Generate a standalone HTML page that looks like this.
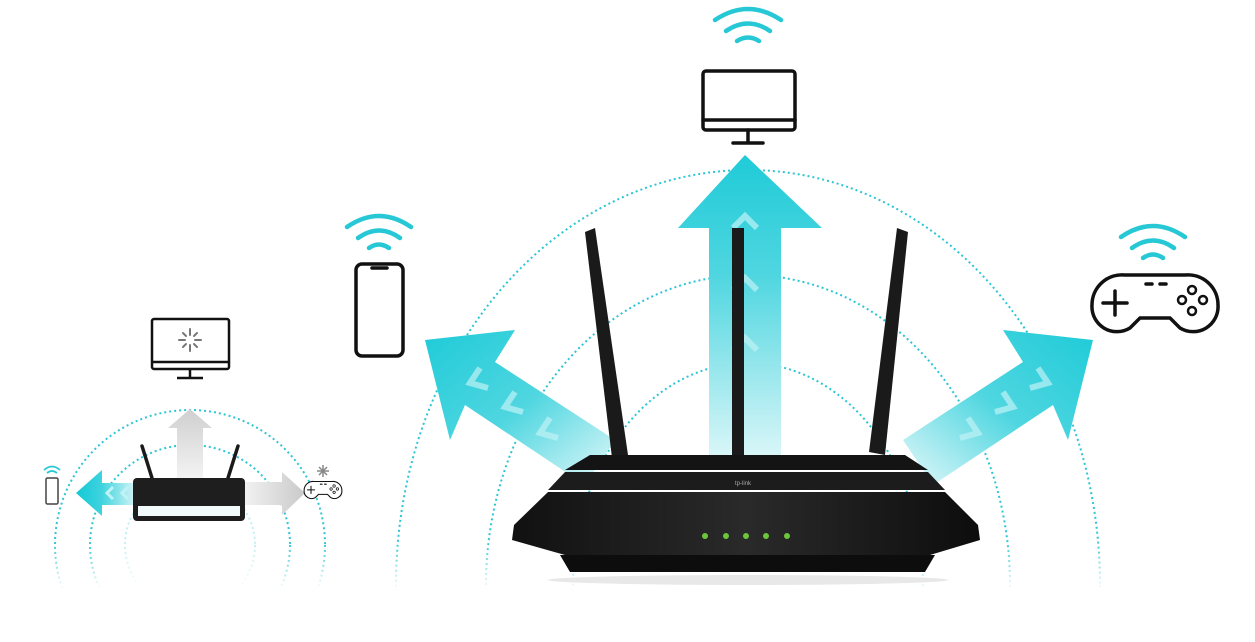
<!DOCTYPE html>
<html><head><meta charset="utf-8"><style>html,body{margin:0;padding:0;background:#fff;width:1255px;height:642px;overflow:hidden}svg{display:block}</style></head>
<body>
<svg width="1255" height="642" viewBox="0 0 1255 642" xmlns="http://www.w3.org/2000/svg">
<defs>
<linearGradient id="gu" x1="0" y1="1" x2="0" y2="0"><stop offset="0" stop-color="#d8f6f8"/><stop offset="0.6" stop-color="#4fd6e0"/><stop offset="1" stop-color="#1fcbd8"/></linearGradient>
<linearGradient id="gl" x1="1" y1="1" x2="0" y2="0"><stop offset="0" stop-color="#e6f9fa"/><stop offset="0.5" stop-color="#4fd6e0"/><stop offset="1" stop-color="#1fcbd8"/></linearGradient>
<linearGradient id="gr" x1="0" y1="1" x2="1" y2="0"><stop offset="0" stop-color="#e6f9fa"/><stop offset="0.5" stop-color="#4fd6e0"/><stop offset="1" stop-color="#1fcbd8"/></linearGradient>
<linearGradient id="gs" x1="1" y1="0" x2="0" y2="0"><stop offset="0" stop-color="#e8f9fa"/><stop offset="0.6" stop-color="#3ed3de"/><stop offset="1" stop-color="#14c8d6"/></linearGradient>
<linearGradient id="gg" x1="0" y1="1" x2="0" y2="0"><stop offset="0" stop-color="#f3f3f3"/><stop offset="1" stop-color="#cfcfcf"/></linearGradient>
<linearGradient id="gg2" x1="0" y1="0" x2="1" y2="0"><stop offset="0" stop-color="#f5f5f5"/><stop offset="1" stop-color="#c9c9c9"/></linearGradient>
<linearGradient id="body" x1="0" y1="0" x2="1" y2="0"><stop offset="0" stop-color="#111"/><stop offset="0.5" stop-color="#2a2a2a"/><stop offset="1" stop-color="#0d0d0d"/></linearGradient>
<linearGradient id="fade" x1="0" y1="0" x2="0" y2="1"><stop offset="0" stop-color="#fff" stop-opacity="0"/><stop offset="1" stop-color="#fff"/></linearGradient>
</defs>
<g fill="none" stroke="#2cc6d4" stroke-width="2" stroke-dasharray="2 3">
<ellipse cx="748" cy="585" rx="352" ry="415"/>
<ellipse cx="748" cy="585" rx="262" ry="310"/>
<ellipse cx="748" cy="585" rx="175" ry="222"/>
<circle cx="190" cy="545" r="135"/>
<circle cx="190" cy="545" r="100"/>
<circle cx="190" cy="545" r="65" stroke="#bfeff3"/>
</g>
<rect x="0" y="540" width="1255" height="50" fill="url(#fade)"/>
<rect x="0" y="590" width="1255" height="52" fill="#fff"/>
<!-- main arrows -->
<polygon points="745,155 822,228 781,228 781,455 709,455 709,228 678,228" fill="url(#gu)"/>
<polygon points="425,340 515,330 495,362 615,440 585,485 465,405 450,440" fill="url(#gl)"/>
<polygon points="1093,340 1003,330 1023,362 903,440 933,485 1053,405 1068,440" fill="url(#gr)"/>
<g fill="none" stroke="#bff3f6" stroke-width="6" opacity="0.7">
<polyline points="733,228 745,216 757,228"/><polyline points="733,290 745,278 757,290"/><polyline points="733,350 745,338 757,350"/>
<polyline points="480,368 470,383 488,388"/><polyline points="515,392 505,407 523,412"/><polyline points="550,418 540,433 558,438"/>
<polyline points="1038,368 1048,383 1030,388"/><polyline points="1003,392 1013,407 995,412"/><polyline points="968,418 978,433 960,438"/>
</g>
<!-- antennas -->
<g fill="#1a1a1a">
<polygon points="585,232 595,228 628,455 612,458"/>
<polygon points="732,228 744,228 744,460 732,460"/>
<polygon points="897,228 908,232 885,455 869,452"/>
</g>
<!-- router -->
<polygon points="590,455 905,455 928,470 565,470" fill="#141414"/>
<polygon points="565,472 928,472 945,490 548,490" fill="#1c1c1c"/>
<polygon points="548,492 945,492 978,525 980,540 930,555 565,555 512,540 514,525" fill="url(#body)"/>
<polygon points="560,555 935,555 925,572 570,572" fill="#0d0d0d"/>
<ellipse cx="748" cy="580" rx="200" ry="5" fill="#e8e8e8"/>
<text x="735" y="485" font-family="Liberation Sans, sans-serif" font-size="6" fill="#aaa">tp-link</text>
<g fill="#6cc63a"><circle cx="705" cy="536" r="3"/><circle cx="726" cy="536" r="3"/><circle cx="746" cy="536" r="3"/><circle cx="766" cy="536" r="3"/><circle cx="787" cy="536" r="3"/></g>
<!-- main icons -->
<g fill="none" stroke="#111" stroke-width="3.5" stroke-linecap="round">
<rect x="703" y="71" width="92" height="59" rx="3"/><line x1="703" y1="120" x2="795" y2="120"/><line x1="748" y1="130" x2="748" y2="142"/><line x1="733" y1="143" x2="763" y2="143"/>
<rect x="356" y="264" width="47" height="92" rx="6"/><line x1="372" y1="268" x2="387" y2="268"/>
</g>
<g id="pad">
<g fill="none" stroke="#111" stroke-width="3.5" stroke-linecap="round">
<path d="M1125,275 H1185 A30,30 0 0 1 1218,305 A25,25 0 0 1 1180,328 L1170,318 H1140 L1130,328 A25,25 0 0 1 1092,305 A30,30 0 0 1 1125,275 Z"/>
<line x1="1103" y1="303" x2="1127" y2="303"/><line x1="1115" y1="291" x2="1115" y2="315"/>
<line x1="1146" y1="284" x2="1152" y2="284"/><line x1="1160" y1="284" x2="1166" y2="284"/>
</g>
<g fill="none" stroke="#111" stroke-width="2.5"><circle cx="1192" cy="290" r="4"/><circle cx="1182" cy="300" r="4"/><circle cx="1203" cy="300" r="4"/><circle cx="1192" cy="311" r="4"/></g>
</g>
<g fill="none" stroke="#27c8d6" stroke-width="4.5" stroke-linecap="round">
<path d="M715,20 Q748,-2 781,20"/><path d="M726,31 Q748,16 770,31"/><path d="M737,41 Q748,34 759,41"/>
<path d="M347,227 Q379,205 411,227"/><path d="M358,238 Q379,223 400,238"/><path d="M369,248 Q379,241 389,248"/>
<path d="M1121,237 Q1153,215 1185,237"/><path d="M1132,248 Q1153,233 1174,248"/><path d="M1143,258 Q1153,251 1163,258"/>
</g>
<!-- small router scene -->
<polygon points="190,409 212,428 203,428 203,478 177,478 177,428 168,428" fill="url(#gg)"/>
<polygon points="305,493 282,472 282,482 240,482 240,505 282,505 282,515" fill="url(#gg2)"/>
<polygon points="76,493 102,470 102,483 140,483 140,505 102,505 102,516" fill="url(#gs)"/>
<g fill="none" stroke="#bff3f6" stroke-width="3"><polyline points="113,487 107,493 113,499"/><polyline points="128,487 122,493 128,499"/></g>
<g stroke="#1a1a1a" stroke-width="3.5" stroke-linecap="round"><line x1="142" y1="446" x2="152" y2="478"/><line x1="238" y1="446" x2="228" y2="478"/></g>
<rect x="133" y="478" width="112" height="43" rx="4" fill="#1e1e1e"/>
<rect x="138" y="506" width="102" height="10" fill="#f2fbfc"/>
<g fill="none" stroke="#111" stroke-width="2.5">
<rect x="152" y="319" width="77" height="50" rx="2"/><line x1="152" y1="362" x2="229" y2="362"/><line x1="190" y1="369" x2="190" y2="377"/><line x1="177" y1="378" x2="203" y2="378"/>
</g>
<g stroke="#777" stroke-width="2" stroke-linecap="round">
<line x1="190" y1="329" x2="190" y2="335"/><line x1="190" y1="345" x2="190" y2="351"/><line x1="179" y1="340" x2="185" y2="340"/><line x1="195" y1="340" x2="201" y2="340"/>
<line x1="183" y1="333" x2="186" y2="336"/><line x1="194" y1="344" x2="197" y2="347"/><line x1="197" y1="333" x2="194" y2="336"/><line x1="186" y1="344" x2="183" y2="347"/>
</g>
<g stroke="#888" stroke-width="1.5"><line x1="323" y1="465" x2="323" y2="477"/><line x1="317" y1="471" x2="329" y2="471"/><line x1="319" y1="467" x2="327" y2="475"/><line x1="327" y1="467" x2="319" y2="475"/></g>
<g transform="translate(-23.5,399) scale(0.3)"><path d="M1125,275 H1185 A30,30 0 0 1 1218,305 A25,25 0 0 1 1180,328 L1170,318 H1140 L1130,328 A25,25 0 0 1 1092,305 A30,30 0 0 1 1125,275 Z" fill="#fff"/><use href="#pad"/></g>
<rect x="46" y="478" width="12" height="26" rx="1.5" fill="none" stroke="#444" stroke-width="1.5"/>
<g fill="none" stroke="#27c8d6" stroke-width="1.8"><path d="M44,470 Q52,463 60,470"/><path d="M47,473 Q52,469 57,473"/></g>
</svg>
</body></html>
